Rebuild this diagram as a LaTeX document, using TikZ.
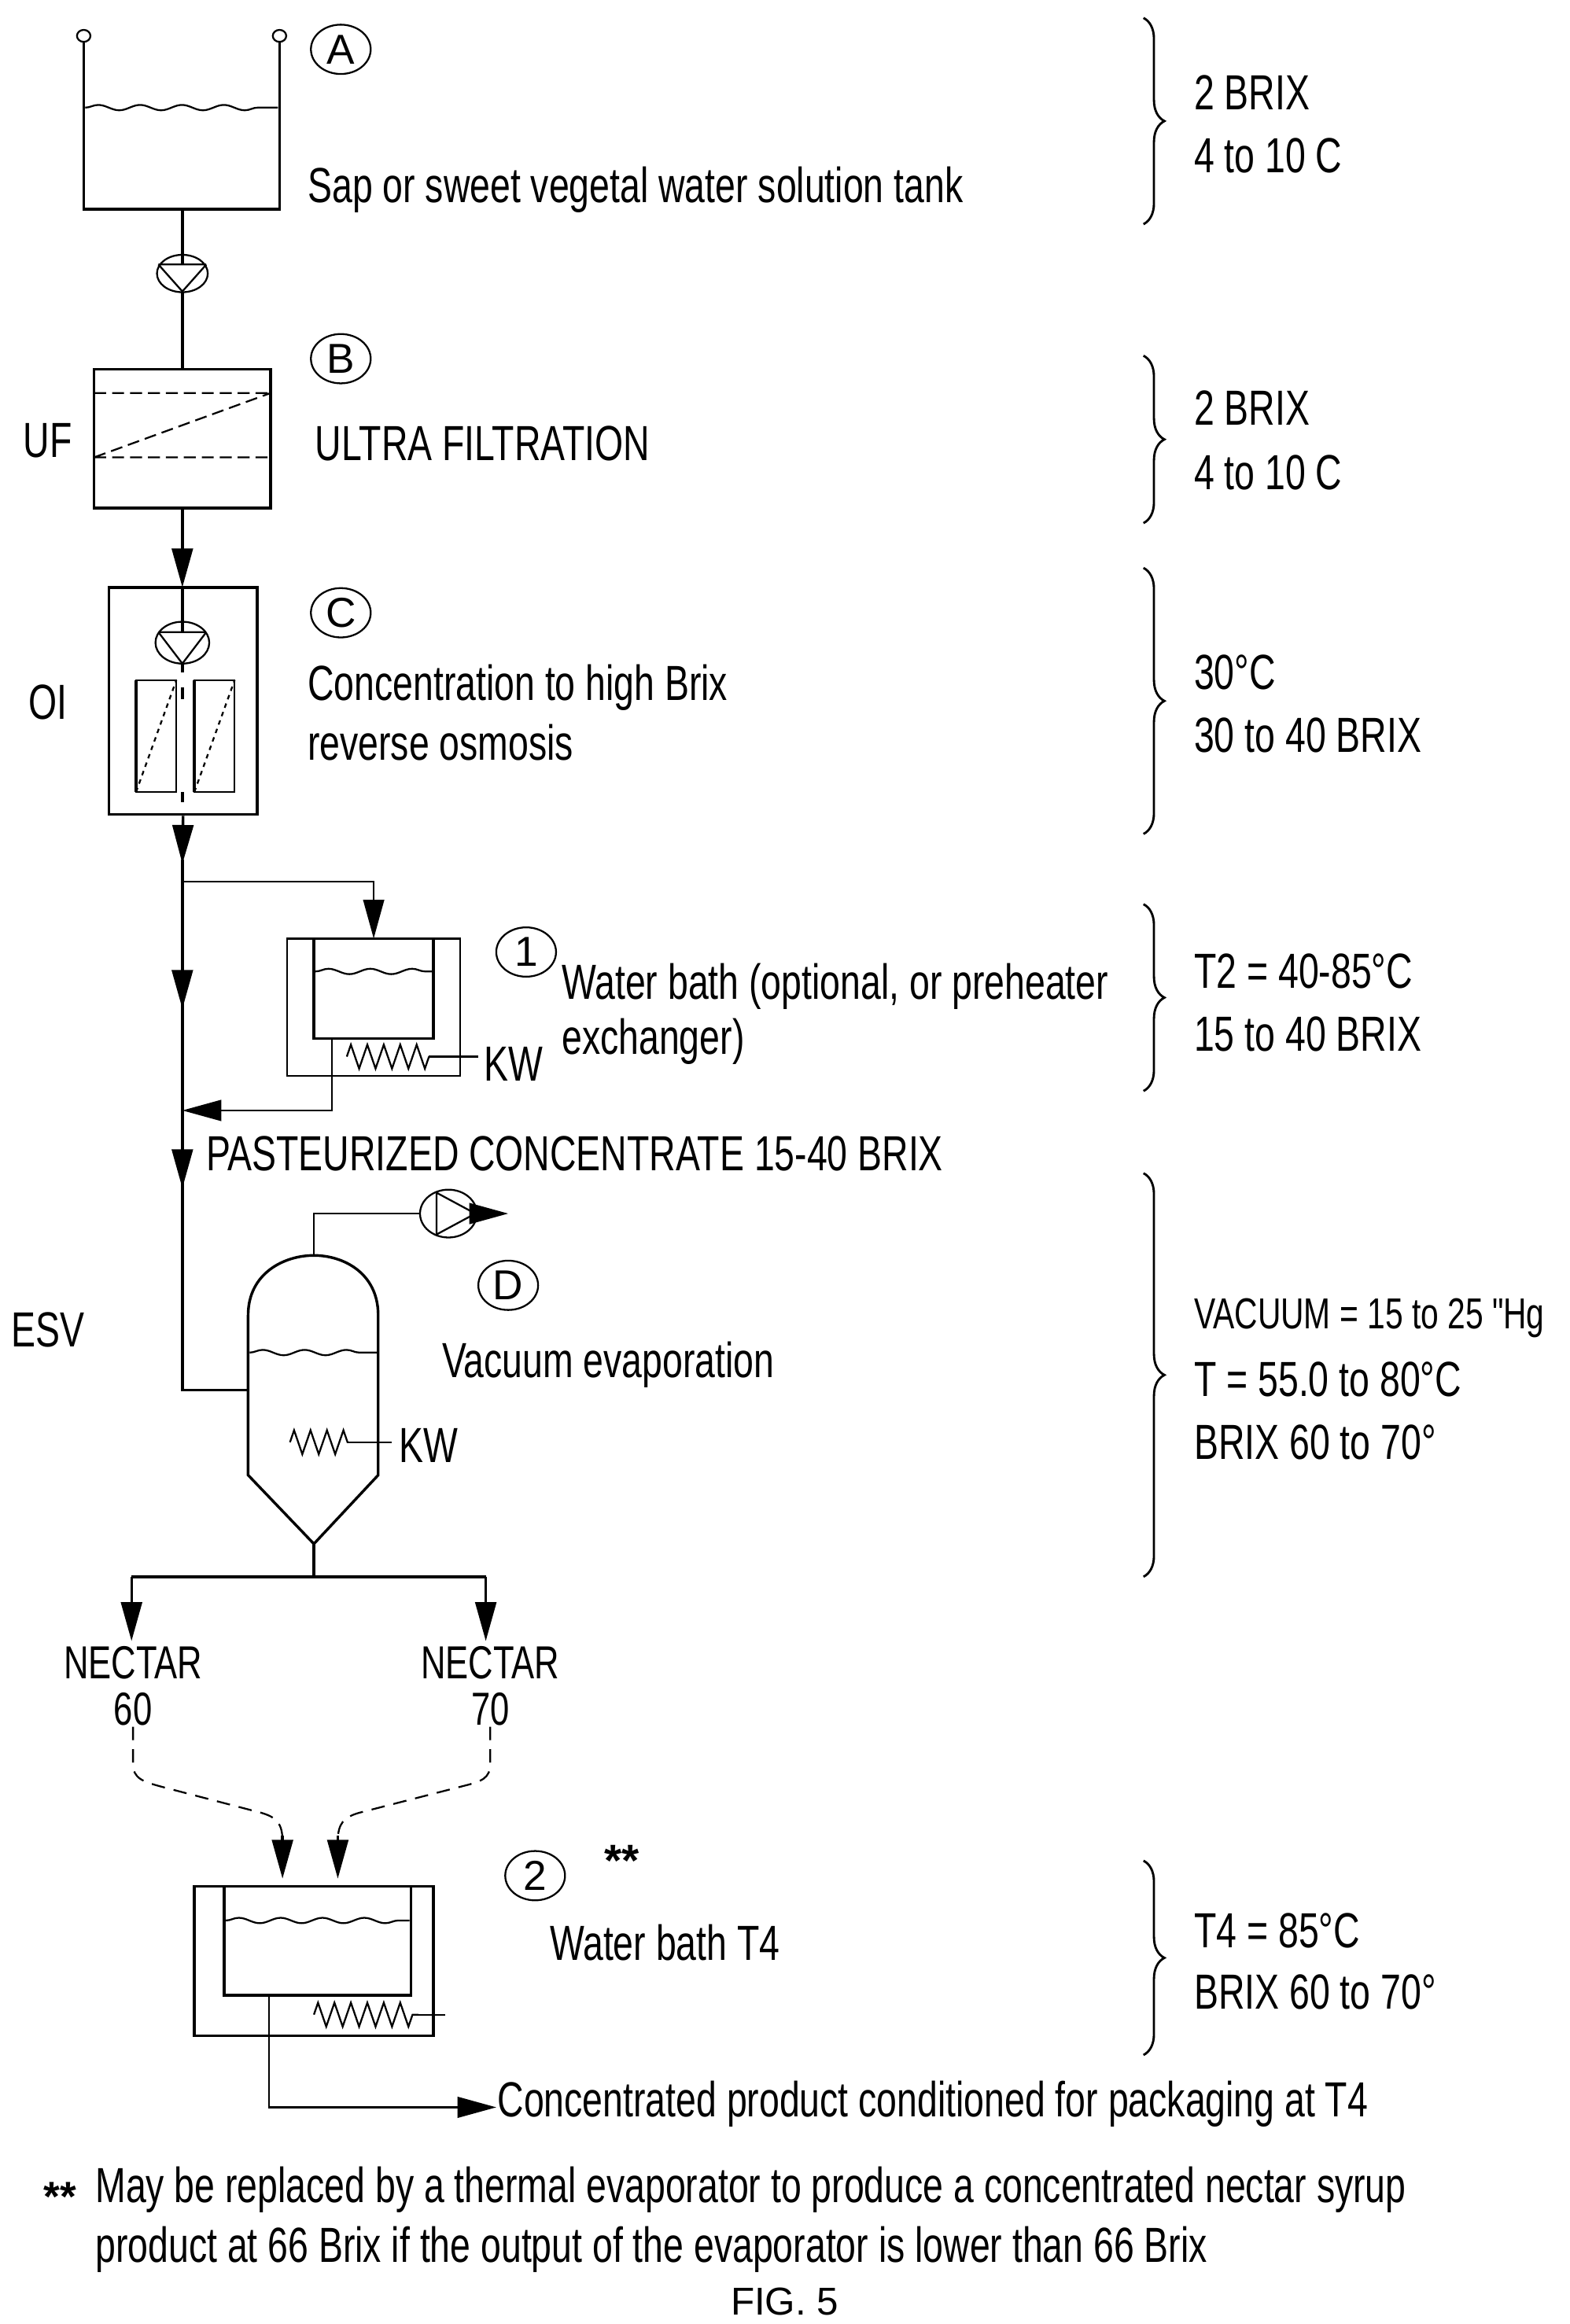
\documentclass[tikz,border=0pt]{standalone}
\usepackage{fontspec}
\setmainfont{Liberation Sans}
\newfontfamily\narrow[FakeStretch=0.74]{Liberation Sans}
\usetikzlibrary{arrows.meta,shapes.geometric,decorations.pathmorphing,decorations.pathreplacing}
\begin{document}
\begin{tikzpicture}[x=1pt,y=-1pt,line width=1.8pt,
  txt/.style={anchor=west,inner sep=0,font=\narrow\fontsize{33}{38}\selectfont},
  lbl/.style={inner sep=0,font=\narrow\fontsize{33}{38}\selectfont},
  circ/.style={draw,ellipse,line width=1.2pt,minimum width=40,minimum height=33,inner sep=0,font=\fontsize{28}{28}\selectfont},
  arr/.style={-{Triangle[length=26pt,width=14pt]}},
  wave/.style={line width=1.2pt,decorate,decoration={snake,amplitude=1.8pt,segment length=28pt}},
  coil/.style={line width=1.2pt,decorate,decoration={zigzag,amplitude=8pt,segment length=11pt}},
  br/.style={line width=1.5pt,decorate,decoration={brace,amplitude=14pt}},
  thin/.style={line width=1.2pt}]
\useasboundingbox (0,0) rectangle (1050,1555);
% Tank A
\draw (56,27) -- (56,140) -- (187,140) -- (187,27);
\draw[thin,fill=white] (56,24) ellipse (4.5 and 4);
\draw[thin,fill=white] (187,24) ellipse (4.5 and 4);
\draw[wave] (57,72) -- (186,72);
\node[circ] (cA) at (228,33) {A};
\node[txt] (tA) at (205,127) {Sap or sweet vegetal water solution tank};
% pump 1
\node[draw,ellipse,thin,minimum width=34,minimum height=25,inner sep=0] (p1) at (122,183) {};
\draw[thin] (106,177) -- (138,177) (106,177) -- (122,195) -- (138,177);
% UF
\node[draw,minimum width=118,minimum height=93,inner sep=0] (uf) at (122,293.5) {};
\draw (122,140) -- (122,177) (122,195) -- (uf.north);
\draw[thin,dashed,dash pattern=on 8pt off 4pt] (63,263) -- (181,263) (63,306) -- (181,306) (63,306) -- (181,263);
\node[circ] (cB) at (228,240) {B};
\node[lbl] (uflbl) at (32,295) {UF};
\node[txt] (tB) at (210,297) {ULTRA FILTRATION};
% OI
\node[draw,minimum width=99,minimum height=152,inner sep=0] (oi) at (122.5,469) {};
\draw[arr] (uf.south) -- (122,393);
\node[draw,ellipse,thin,minimum width=36,minimum height=28,inner sep=0] (p2) at (122,430) {};
\draw[thin] (106,423) -- (138,423) (106,423) -- (122,444) -- (138,423);
\draw (122,393) -- (122,423) (122,444) -- (122,450);
\draw[thin] (91,455) rectangle (118,530) (130,455) rectangle (157,530);
\draw (91,455) -- (91,530) (130,455) -- (130,530);
\draw[thin,dashed] (91,530) -- (118,455) (130,530) -- (157,455);
\draw (122,460) -- (122,468) (122,530) -- (122,537);
\node[circ] (cC) at (228,410) {C};
\node[lbl] (oilbl) at (32,470) {OI};
\node[txt] (tC1) at (205,460) {Concentration to high Brix};
\node[txt] (tC2) at (205,497) {reverse osmosis};
% main line
\coordinate (j1) at (122,590);
\coordinate (j2) at (122,743);
\coordinate (ein) at (166,930);
\draw[arr] (oi.south) -- (122,578);
\draw (122,575) -- (j1) -- (j2) -- (122,930) -- (ein);
\draw[arr] (122,640) -- (122,675);
\draw[arr] (122,760) -- (122,795);
% Water bath 1
\draw[thin] (192,628) rectangle (308,720);
\draw (210,628) -- (210,695) -- (290,695) -- (290,628);
\draw[wave] (211,650) -- (289,650);
\draw[coil] (232,707) -- (287,707);
\draw[thin] (287,707) -- (320,707);
\node[lbl,anchor=west] (kw1) at (323,712) {KW};
\draw[thin,arr] (j1) -- (250,590) -- (250,628);
\draw[thin,arr] (222,695) -- (222,743) -- (j2);
\node[circ] (c1) at (352,637) {1};
\node[txt] (t11) at (375,660) {Water bath (optional, or preheater};
\node[txt] (t12) at (375,697) {exchanger)};
\node[txt] (past) at (137,772) {PASTEURIZED CONCENTRATE 15-40 BRIX};
% evaporator
\draw (166,930) -- (166,880) .. controls (166,852) and (190,840) .. (210,840) .. controls (230,840) and (253,852) .. (253,880) -- (253,987) -- (210,1033) -- (166,987) -- (166,930);
\draw[wave] (167,905) -- (252,905);
\draw[coil] (194,965) -- (233,965);
\draw[thin] (233,965) -- (262,965);
\node[lbl,anchor=west] (kw2) at (266,967) {KW};
\node[draw,ellipse,thin,minimum width=38,minimum height=32,inner sep=0] (vp) at (300,812) {};
\draw[thin] (210,840) -- (210,812) -- (vp.west);
\draw[thin] (292,798) -- (292,826) -- (318,812) -- cycle;
\draw[thin,arr] (vp.east) -- (340,812);
\node[circ] (cD) at (340,860) {D};
\node[txt] (tD) at (295,913) {Vacuum evaporation};
\node[lbl] (esv) at (32,890) {ESV};
% outputs
\coordinate (apx) at (210,1033);
\draw (apx) -- (210,1055);
\draw (88,1055) -- (325,1055);
\draw[arr] (88,1055) -- (88,1098);
\draw[arr] (325,1055) -- (325,1098);
\node[lbl,align=center,font=\narrow\fontsize{31}{31}\selectfont] (n60) at (89,1128) {NECTAR\\60};
\node[lbl,align=center,font=\narrow\fontsize{31}{31}\selectfont] (n70) at (328,1128) {NECTAR\\70};
\draw[thin,dashed,dash pattern=on 9pt off 6pt] (n60.south) -- (89,1180) .. controls (89,1190) and (95,1192) .. (110,1196) -- (175,1213) .. controls (185,1216) and (189,1220) .. (189,1232);
\draw[arr] (189,1228) -- (189,1257);
\draw[thin,dashed,dash pattern=on 9pt off 6pt] (n70.south) -- (328,1180) .. controls (328,1190) and (322,1192) .. (310,1195) -- (240,1213) .. controls (230,1216) and (226,1220) .. (226,1232);
\draw[arr] (226,1228) -- (226,1257);
% Water bath 2
\draw (130,1262) rectangle (290,1362);
\draw (150,1262) -- (150,1335) -- (275,1335) -- (275,1262);
\draw[wave] (151,1285) -- (274,1285);
\draw[coil] (210,1348) -- (280,1348);
\draw[thin] (280,1348) -- (298,1348);
\draw[thin,arr] (180,1335) -- (180,1410) -- (332,1410);
\node[txt] (tout) at (332,1408) {Concentrated product conditioned for packaging at T4};
\node[circ] (c2) at (358,1255) {2};
\node[inner sep=0,font=\bfseries\fontsize{30}{30}\selectfont] (st) at (416,1245) {**};
\node[txt] (t2) at (367,1300) {Water bath T4};
% braces and conditions
\draw[br] (765,12) -- (765,150);
\node[txt] at (798,62) {2 BRIX};
\node[txt] at (798,104) {4 to 10 C};
\draw[br] (765,238) -- (765,350);
\node[txt] at (798,273) {2 BRIX};
\node[txt] at (798,316) {4 to 10 C};
\draw[br] (765,380) -- (765,558);
\node[txt] at (798,450) {30°C};
\node[txt] at (798,492) {30 to 40 BRIX};
\draw[br] (765,605) -- (765,730);
\node[txt] at (798,650) {T2 = 40-85°C};
\node[txt] at (798,692) {15 to 40 BRIX};
\draw[br] (765,785) -- (765,1055);
\node[txt,font=\narrow\fontsize{29}{38}\selectfont] at (798,882) {VACUUM = 15 to 25 "Hg};
\node[txt] at (798,923) {T = 55.0 to 80°C};
\node[txt] at (798,965) {BRIX 60 to 70°};
\draw[br] (765,1245) -- (765,1375);
\node[txt] at (798,1292) {T4 = 85°C};
\node[txt] at (798,1333) {BRIX 60 to 70°};
% footnote
\node[inner sep=0,font=\bfseries\fontsize{28}{28}\selectfont] (fs) at (40,1470) {**};
\node[txt] (f1) at (63,1465) {May be replaced by a thermal evaporator to produce a concentrated nectar syrup};
\node[txt] (f2) at (63,1505) {product at 66 Brix if the output of the evaporator is lower than 66 Brix};
\node[inner sep=0,font=\fontsize{26}{26}\selectfont] (fig) at (525,1540) {FIG. 5};
\end{tikzpicture}
\end{document}
